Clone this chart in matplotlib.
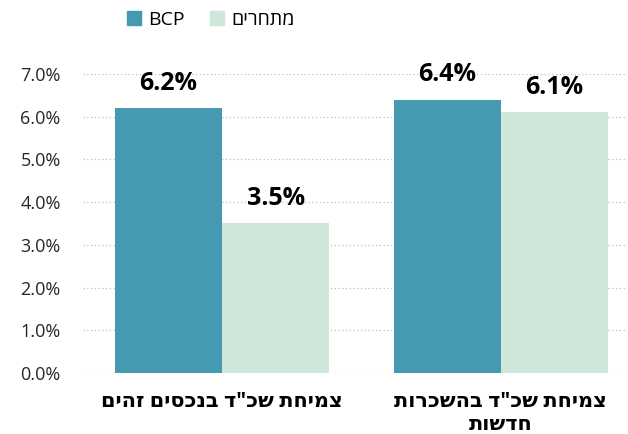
import matplotlib
matplotlib.use('Agg')
import matplotlib.pyplot as plt
import numpy as np
from matplotlib.patches import Patch

plt.rcParams['font.family'] = ['Open Sans', 'DejaVu Sans']

# נתונים
categories = ['צמיחת שכ"ד בנכסים זהים', 'צמיחת שכ"ד בהשכרות\nחדשות']
series_names = ['BCP', 'מתחרים']
bcp_vals = [6.2, 6.4]
comp_vals = [3.5, 6.1]
yticks = [0, 1, 2, 3, 4, 5, 6, 7]

c_bcp = '#4599B0'
c_comp = '#CFE6DA'


def rtl(s):
    # matplotlib אינו תומך ב-bidi, הופכים כל שורה ידנית
    return '\n'.join(line[::-1] if any('\u0590' <= ch <= '\u05FF' for ch in line) else line
                     for line in s.split('\n'))


fig = plt.figure(figsize=(6.28, 4.34), dpi=100)
ax = fig.add_axes([0.132, 0.1406, 0.865, 0.6889])

x = np.arange(len(categories))
w = 0.385
b1 = ax.bar(x - w / 2, bcp_vals, w, color=c_bcp, zorder=3)
b2 = ax.bar(x + w / 2, comp_vals, w, color=c_comp, zorder=3)

for bars, vals in ((b1, bcp_vals), (b2, comp_vals)):
    for r, v in zip(bars, vals):
        ax.annotate('%.1f%%' % v, (r.get_x() + r.get_width() / 2, v),
                    xytext=(0, 9), textcoords='offset points',
                    ha='center', va='bottom', fontsize=18, fontweight='bold',
                    color='black', annotation_clip=False)

ax.set_xlim(-0.5, 1.45)
ax.set_ylim(0, 7)
ax.set_yticks(yticks)
ax.set_yticklabels(['%.1f%%' % t for t in yticks], fontsize=13, color='#262626')
ax.set_xticks(x)
ax.set_xticklabels([rtl(c) for c in categories], fontsize=15, fontweight='bold',
                   color='black', linespacing=1.1)
ax.tick_params(axis='both', length=0)
ax.tick_params(axis='y', pad=16)
ax.tick_params(axis='x', pad=13)
ax.grid(axis='y', linestyle=(0, (1, 2)), color='#BFBFBF', linewidth=0.9, zorder=0)
ax.set_axisbelow(True)
for s in ax.spines.values():
    s.set_visible(False)

handles = [Patch(color=c_bcp), Patch(color=c_comp)]
fig.legend(handles, [rtl(n) for n in series_names], loc='center', ncol=2,
           bbox_to_anchor=(0.336, 0.955), frameon=False, fontsize=14,
           handlelength=0.7, handleheight=0.7, handletextpad=0.4, columnspacing=1.3)

fig.savefig('out.png', dpi=100)
